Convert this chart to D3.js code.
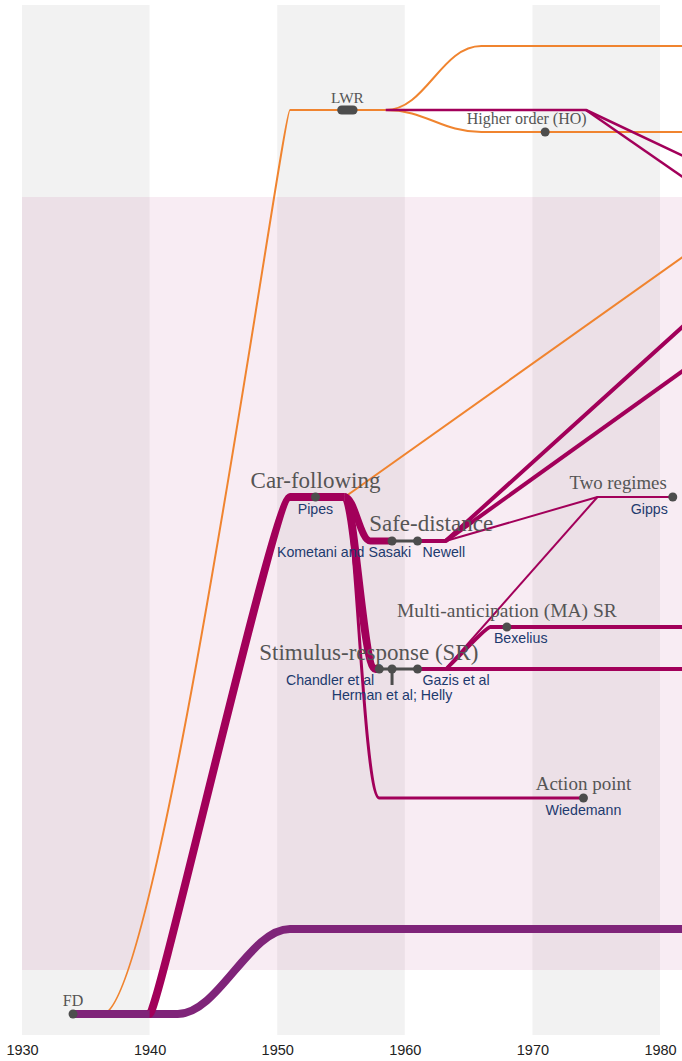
<!DOCTYPE html>
<html><head><meta charset="utf-8">
<script src="https://cdn.jsdelivr.net/npm/d3@7"></script>
<style>body{margin:0;background:#fff}svg{display:block}</style>
</head><body><svg id="c" width="682" height="1061"></svg>
<script>
// ---------------- DATA ----------------
const decadeTicks = [1930, 1940, 1950, 1960, 1970, 1980];
const shadedDecades = [[1930, 1940], [1950, 1960], [1970, 1980]];
const microscopicBand = [6.5, 83.8];          // level range of the car-following family
const trackRange = [0, 103];

// routes: [year, level]
const fdRoute        = [[1934, 2.1], [1942.2, 2.1], [1951, 10.6], [1982, 10.6]];
const lwrRise        = [[1936.3, 2.1], [1951, 92.5], [1958.5, 92.5]];
const lwrUpper       = [[1958.5, 92.5], [1966, 98.9], [1982, 98.9]];
const hoRoute        = [[1958.5, 92.5], [1966, 90.3], [1982, 90.3]];
const lwrCrimsonA    = [[1958.5, 92.5], [1974.2, 92.5], [1982, 87.8]];
const lwrCrimsonB    = [[1974.2, 92.5], [1982, 85.6]];
const cfRise         = [[1940, 2.1], [1951, 53.8], [1955.3, 53.8]];
const cfToSR         = [[1955.3, 53.8], [1957.7, 36.6], [1958, 36.6]];
const cfToSD         = [[1955.3, 53.8], [1957.3, 49.4], [1959, 49.4]];
const cfToAP         = [[1955.3, 53.8], [1958, 23.7], [1974, 23.7]];
const cfOrange       = [[1955.3, 53.8], [1982, 78.0]];
const sdBranchA      = [[1961, 49.4], [1963.2, 49.4], [1982, 71.1]];
const sdBranchB      = [[1963.2, 49.4], [1982, 66.6]];
const sdToTR         = [[1963.2, 49.4], [1975.1, 53.8], [1981, 53.8]];
const srMain         = [[1961, 36.6], [1982, 36.6]];
const srToMA         = [[1963.2, 36.6], [1966.7, 40.8], [1982, 40.8]];
const srToTR         = [[1963.2, 36.6], [1975.1, 53.8]];

const connectors     = [[[1959, 49.4], [1961, 49.4]], [[1958, 36.6], [1961, 36.6]], [[1959, 36.6], [1959, 35.0]]];
const lwrPill        = [1954.7, 1956.3, 92.5];

// stations: [year, level]
const stations = [[1934, 2.1], [1953, 53.8], [1959, 49.4], [1961, 49.4], [1958, 36.6], [1959, 36.6],
                  [1961, 36.6], [1968, 40.8], [1981, 53.8], [1974, 23.7], [1971, 90.3]];

// family labels: [text, year, level]
const familyLabels = [
  ["FD", 1934, 2.1], ["LWR", 1955.5, 92.5], ["Higher order (HO)", 1971, 90.3],
  ["Car-following", 1953, 53.8], ["Safe-distance", 1961, 49.4], ["Stimulus-response (SR)", 1958, 36.6],
  ["Multi-anticipation (MA) SR", 1968, 40.8], ["Two regimes", 1981, 53.8], ["Action point", 1974, 23.7]
];
// author labels: [text, year, level]
const authorLabels = [
  ["Pipes", 1953, 53.8], ["Kometani and Sasaki", 1959, 49.4], ["Newell", 1961, 49.4],
  ["Chandler et al", 1958, 36.6], ["Herman et al; Helly", 1959, 36.6], ["Gazis et al", 1961, 36.6],
  ["Bexelius", 1968, 40.8], ["Gipps", 1981, 53.8], ["Wiedemann", 1974, 23.7]
];

// ---------------- STYLE / LAYOUT ----------------
const C = {orange: "#f0842f", crimson: "#a2005a", purple: "#7f2479", dot: "#4d4d4d",
           grey: "#555555", blue: "#1d3a6e"};
const W = 682, H = 1061;
const svg = d3.select("#c");
const x = d3.scaleLinear().domain([1930, 1980]).range([22, 660]);
const y = d3.scaleLinear().domain(trackRange).range([1035, 5]);

const routes = [
  [lwrRise, C.orange, 2, 0.3, 0.04],
  [lwrUpper, C.orange, 2, 0.42, 0.42],
  [hoRoute, C.orange, 2, 0.42, 0.42],
  [cfOrange, C.orange, 2, 0, 0],
  [fdRoute, C.purple, 8, 0.36, 0.36],
  [lwrCrimsonA, C.crimson, 2.5, 0, 0],
  [lwrCrimsonB, C.crimson, 2.5, 0, 0],
  [cfToAP, C.crimson, 3, 0.3, 0.45],
  [sdBranchA, C.crimson, 4, 0, 0],
  [sdBranchB, C.crimson, 4, 0, 0],
  [sdToTR, C.crimson, 2, 0, 0],
  [srToTR, C.crimson, 2, 0, 0],
  [srMain, C.crimson, 4, 0, 0],
  [srToMA, C.crimson, 4, 0.05, 0.12],
  [cfToSD, C.crimson, 7, 0.4, 0.4],
  [cfToSR, C.crimson, 8, 0.3, 0.4],
  [cfRise, C.crimson, 8, 0.06, 0.11]
];

const familyLayout = {
  "FD": [0, -8, "middle", 16], "LWR": [0, -7, "middle", 15.3],
  "Higher order (HO)": [-18.5, -8.5, "middle", 16],
  "Car-following": [0, -9, "middle", 23], "Safe-distance": [13.6, -10, "middle", 23],
  "Stimulus-response (SR)": [-10.5, -9, "middle", 23],
  "Multi-anticipation (MA) SR": [0, -10, "middle", 19.5],
  "Two regimes": [-6, -8, "end", 18.8], "Action point": [0, -8.5, "middle", 19]
};
const authorLayout = {
  "Pipes": [0, 17, "middle"], "Kometani and Sasaki": [19, 16, "end"], "Newell": [5, 16, "start"],
  "Chandler et al": [-5, 16, "end"], "Herman et al; Helly": [0, 31, "middle"], "Gazis et al": [5, 16, "start"],
  "Bexelius": [-13, 16, "start"], "Gipps": [-5, 17, "end"], "Wiedemann": [0, 17, "middle"]
};

// ---------------- DRAW ----------------
// background bands
svg.append("g").selectAll("rect").data(shadedDecades).join("rect")
  .attr("x", d => x(d[0])).attr("width", d => x(d[1]) - x(d[0]))
  .attr("y", y(trackRange[1])).attr("height", y(trackRange[0]) - y(trackRange[1]))
  .attr("fill", "#000").attr("fill-opacity", 0.05);
svg.append("rect")
  .attr("x", x(1930)).attr("width", W - x(1930))
  .attr("y", y(microscopicBand[1])).attr("height", y(microscopicBand[0]) - y(microscopicBand[1]))
  .attr("fill", "rgb(165,0,90)").attr("fill-opacity", 0.075);

function routePath(pts, k0, k1) {
  const p = d3.path();
  pts.forEach((d, i) => {
    const X = x(d[0]), Y = y(d[1]);
    if (i === 0) { p.moveTo(X, Y); return; }
    const X0 = x(pts[i - 1][0]), Y0 = y(pts[i - 1][1]);
    if (Y === Y0 || (k0 === 0 && k1 === 0)) p.lineTo(X, Y);
    else { const dx = X - X0; p.bezierCurveTo(X0 + k0 * dx, Y0, X - k1 * dx, Y, X, Y); }
  });
  return p.toString();
}

svg.append("g").selectAll("path").data(routes).join("path")
  .attr("d", d => routePath(d[0], d[3], d[4]))
  .attr("fill", "none").attr("stroke", d => d[1]).attr("stroke-width", d => d[2])
  .attr("stroke-linejoin", "round");

// connectors
svg.append("g").selectAll("path").data(connectors).join("path")
  .attr("d", d => d3.line().x(p => x(p[0])).y(p => y(p[1]))(d))
  .attr("stroke", C.dot).attr("stroke-width", 3).attr("fill", "none");

// LWR pill
svg.append("rect")
  .attr("x", x(lwrPill[0])).attr("width", x(lwrPill[1]) - x(lwrPill[0]))
  .attr("y", y(lwrPill[2]) - 4.5).attr("height", 9).attr("rx", 4.5)
  .attr("fill", C.dot);

// stations
svg.append("g").selectAll("circle").data(stations).join("circle")
  .attr("cx", d => x(d[0])).attr("cy", d => y(d[1])).attr("r", 4.5).attr("fill", C.dot);

// family labels
svg.append("g").selectAll("text").data(familyLabels).join("text")
  .attr("x", d => x(d[1]) + familyLayout[d[0]][0])
  .attr("y", d => y(d[2]) + familyLayout[d[0]][1])
  .attr("text-anchor", d => familyLayout[d[0]][2])
  .attr("font-size", d => familyLayout[d[0]][3])
  .attr("font-family", "'Liberation Serif', 'Times New Roman', serif")
  .attr("fill", C.grey).text(d => d[0]);

// author labels
svg.append("g").selectAll("text").data(authorLabels).join("text")
  .attr("x", d => x(d[1]) + authorLayout[d[0]][0])
  .attr("y", d => y(d[2]) + authorLayout[d[0]][1])
  .attr("text-anchor", d => authorLayout[d[0]][2])
  .attr("font-size", 14.2)
  .attr("font-family", "'Liberation Sans', Arial, sans-serif")
  .attr("fill", C.blue).text(d => d[0]);

// axis
const axis = d3.axisBottom(x).tickValues(decadeTicks).tickFormat(d3.format("d")).tickSize(0).tickPadding(10);
svg.append("g").attr("transform", `translate(0,${y(0)})`).call(axis)
  .call(g => g.select(".domain").remove())
  .call(g => g.selectAll("text").attr("font-size", 14.5).attr("fill", "#222")
    .attr("font-family", "'Liberation Sans', Arial, sans-serif"));
</script>
</body></html>
